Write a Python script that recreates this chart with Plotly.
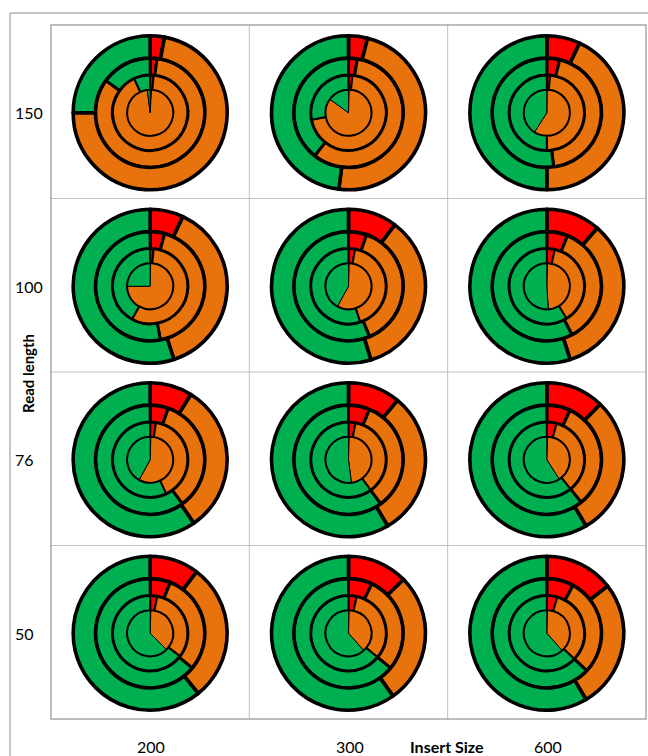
import plotly.graph_objects as go

W, H = 648, 756

# Grid categories
read_lengths = ["150", "100", "76", "50"]      # rows, top to bottom
insert_sizes = ["200", "300", "600"]           # columns, left to right

# Percentages per ring, listed inner -> outer, for each [row][column]
red_pct = [
    [[1.0, 1.5, 2.0, 3.0], [0.5, 1.7, 2.6, 4.0], [0.3, 1.4, 3.8, 7.0]],
    [[0.3, 1.5, 4.3, 7.0], [0.5, 2.8, 5.4, 10.3], [0.5, 3.4, 6.2, 11.4]],
    [[0.5, 2.5, 5.4, 8.9], [0.5, 3.0, 6.3, 11.0], [0.5, 4.2, 7.0, 12.2]],
    [[0.5, 3.0, 6.0, 10.3], [0.5, 3.5, 7.0, 12.7], [0.5, 4.5, 8.0, 14.5]],
]
orange_pct = [
    [[97.0, 91.5, 83.0, 72.0], [84.5, 70.3, 58.0, 48.0], [58.7, 48.6, 44.2, 43.0]],
    [[74.7, 56.5, 42.7, 38.0], [57.5, 42.2, 38.3, 35.0], [48.5, 37.9, 36.2, 33.7]],
    [[57.5, 40.5, 34.6, 31.5], [47.5, 37.0, 33.7, 30.5], [40.5, 35.0, 32.2, 29.3]],
    [[37.0, 32.5, 30.0, 29.0], [38.0, 32.5, 29.0, 27.5], [38.0, 32.5, 29.0, 27.0]],
]
green_pct = [
    [[2.0, 7.0, 15.0, 25.0], [15.0, 28.0, 39.4, 48.0], [41.0, 50.0, 52.0, 50.0]],
    [[25.0, 42.0, 53.0, 55.0], [42.0, 55.0, 56.3, 54.7], [51.0, 58.7, 57.6, 54.9]],
    [[42.0, 57.0, 60.0, 59.6], [52.0, 60.0, 60.0, 58.5], [59.0, 60.8, 60.8, 58.5]],
    [[62.5, 64.5, 64.0, 60.7], [61.5, 64.0, 64.0, 59.8], [61.5, 63.0, 63.0, 58.5]],
]

slice_colors = ["#FF0000", "#E8720C", "#00B050"]
ring_radii = [0.30, 0.49, 0.71, 1.0]   # outer radius of each ring, relative
ring_line = [1.0, 2.0, 3.0, 3.6]       # border width of each ring

# Table area in pixels
tx0, tx1, ty0, ty1 = 51, 646, 25, 719
col_w = (tx1 - tx0) / len(insert_sizes)
row_h = (ty1 - ty0) / len(read_lengths)
R = 77  # outer radius in px


def px_x(x):
    return x / W


def px_y(y):
    return 1 - y / H


fig = go.Figure()

for ri in range(len(read_lengths)):
    cy = ty0 + row_h * (ri + 0.5) + 1
    for ci in range(len(insert_sizes)):
        cx = tx0 + col_w * (ci + 0.5)
        for k in range(len(ring_radii)):
            r = R * ring_radii[k]
            hole = ring_radii[k - 1] / ring_radii[k] if k > 0 else 0
            fig.add_trace(go.Pie(
                values=[red_pct[ri][ci][k], orange_pct[ri][ci][k], green_pct[ri][ci][k]],
                labels=["red", "orange", "green"],
                marker=dict(colors=slice_colors,
                            line=dict(color="black", width=ring_line[k])),
                hole=hole,
                sort=False,
                direction="clockwise",
                rotation=0,
                textinfo="none",
                hoverinfo="skip",
                showlegend=False,
                domain=dict(x=[px_x(cx - r), px_x(cx + r)],
                            y=[px_y(cy + r), px_y(cy - r)]),
            ))

shapes = []
# Outer frame
shapes.append(dict(type="rect", xref="paper", yref="paper",
                   x0=px_x(10), x1=1.1, y0=-0.1, y1=px_y(13),
                   line=dict(color="#8c8c8c", width=1), layer="below"))
# Cell grid
grid_line = dict(color="#c0c0c0", width=1)
for i in range(1, len(insert_sizes)):
    x = tx0 + col_w * i
    shapes.append(dict(type="line", xref="paper", yref="paper",
                       x0=px_x(x), x1=px_x(x), y0=px_y(ty1), y1=px_y(ty0),
                       line=grid_line, layer="below"))
for j in range(1, len(read_lengths)):
    y = ty0 + row_h * j
    shapes.append(dict(type="line", xref="paper", yref="paper",
                       x0=px_x(tx0), x1=px_x(tx1), y0=px_y(y), y1=px_y(y),
                       line=grid_line, layer="below"))
shapes.append(dict(type="rect", xref="paper", yref="paper",
                   x0=px_x(tx0), x1=px_x(tx1), y0=px_y(ty1), y1=px_y(ty0),
                   line=dict(color="#a8a8a8", width=1.5), layer="below"))

font = dict(family="Lato, Open Sans, sans-serif", size=16, color="black")
annotations = []
for ri, lab in enumerate(read_lengths):
    cy = ty0 + row_h * (ri + 0.5) + 1
    annotations.append(dict(text=lab, x=px_x(13), y=px_y(cy), xref="paper", yref="paper",
                            xanchor="left", yanchor="middle", showarrow=False, font=font))
for ci, lab in enumerate(insert_sizes):
    cx = tx0 + col_w * (ci + 0.5) + 1
    annotations.append(dict(text=lab, x=px_x(cx), y=px_y(746), xref="paper", yref="paper",
                            xanchor="center", yanchor="middle", showarrow=False, font=font))
annotations.append(dict(text="<b>Insert Size</b>", x=px_x(447), y=px_y(746),
                        xref="paper", yref="paper", xanchor="center", yanchor="middle",
                        showarrow=False, font=font))
annotations.append(dict(text="<b>Read length</b>", x=px_x(28), y=px_y(374),
                        xref="paper", yref="paper", xanchor="center", yanchor="middle",
                        textangle=-90, showarrow=False, font=dict(font, size=15)))

fig.update_layout(
    width=W, height=H,
    margin=dict(l=0, r=0, t=0, b=0),
    paper_bgcolor="white", plot_bgcolor="white",
    xaxis=dict(visible=False), yaxis=dict(visible=False),
    shapes=shapes,
    annotations=annotations,
)

fig.write_html("out.html")
